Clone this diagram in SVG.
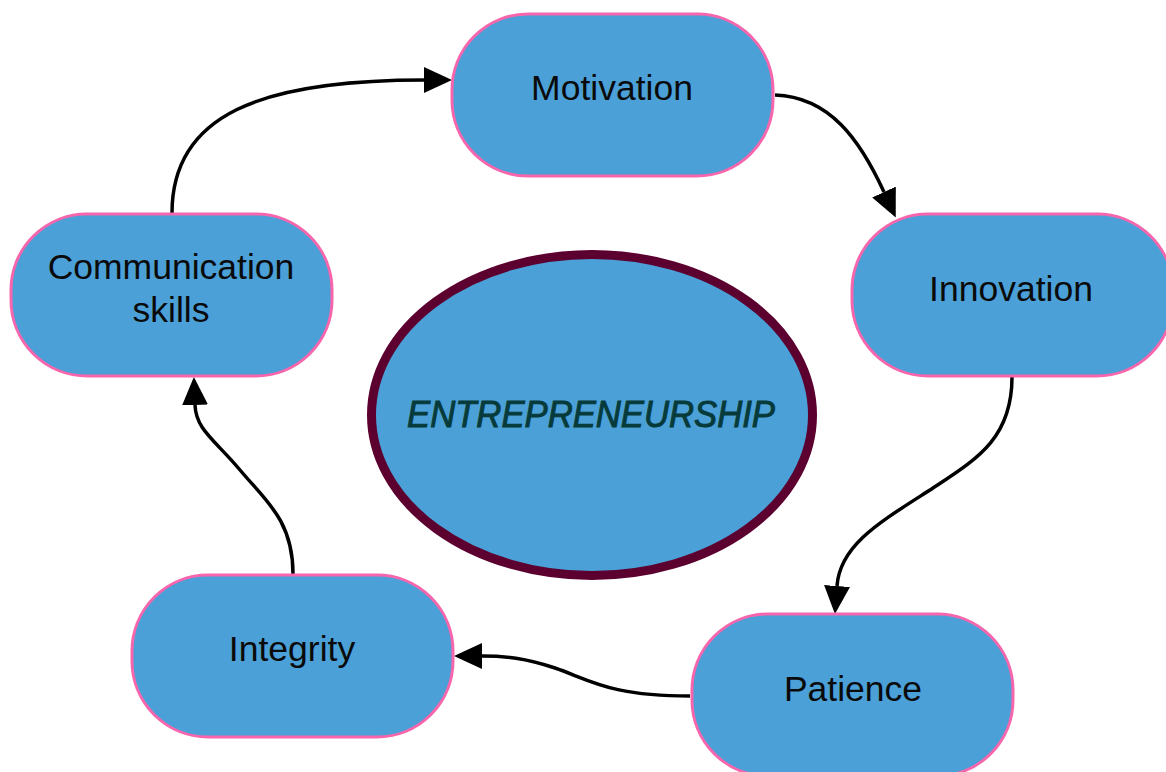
<svg xmlns="http://www.w3.org/2000/svg" width="1166" height="772" viewBox="0 0 1166 772">
<style>
.node rect{fill:#4aa0d7;stroke:#f766ad;stroke-width:3}
.lbl{font-family:"Liberation Sans",Arial,sans-serif;font-size:35.5px;fill:#0a0a0a;text-anchor:middle}
.conn path{fill:none;stroke:#000;stroke-width:3.5}
</style>
<defs>
<marker id="ah" markerUnits="userSpaceOnUse" markerWidth="32" markerHeight="28" refX="0" refY="13" orient="auto">
<path d="M0,0 L28,13 L0,26 Z" fill="#000"/>
</marker>
</defs>
<rect width="1166" height="772" fill="#fff"/>
<g id="connectors" class="conn">
<path d="M172,213 C172,115 260,80 424,80" marker-end="url(#ah)"/>
<path d="M775,95 C830,97 860,140 884,192" marker-end="url(#ah)"/>
<path d="M1012,377 C1012,440 975,460 930,490 C880,522 840,545 837,586" marker-end="url(#ah)"/>
<path d="M690,696 C610,696 590,680 555,668 C525,658 505,656 482,656" marker-end="url(#ah)"/>
<path d="M293,574 C293,520 265,500 240,470 C215,440 196,430 195,405" marker-end="url(#ah)"/>
</g>
<g id="center">
<ellipse cx="592" cy="415" rx="220.5" ry="160.5" fill="#4aa0d7" stroke="#5c0030" stroke-width="9"/>
<text x="591" y="427" font-family="Liberation Sans,Arial,sans-serif" font-style="italic" font-size="37" fill="#073a3a" stroke="#073a3a" stroke-width="1" text-anchor="middle" textLength="368" lengthAdjust="spacingAndGlyphs">ENTREPRENEURSHIP</text>
</g>
<g id="motivation" class="node">
<rect x="452" y="14" width="321" height="162" rx="76" ry="76"/>
<text class="lbl" x="612" y="100">Motivation</text>
</g>
<g id="innovation" class="node">
<rect x="852" y="214" width="321" height="162" rx="76" ry="76"/>
<text class="lbl" x="1011" y="301">Innovation</text>
</g>
<g id="patience" class="node">
<rect x="692" y="614" width="321" height="162" rx="76" ry="76"/>
<text class="lbl" x="853" y="701">Patience</text>
</g>
<g id="integrity" class="node">
<rect x="132" y="575" width="321" height="162" rx="76" ry="76"/>
<text class="lbl" x="292" y="661">Integrity</text>
</g>
<g id="communication" class="node">
<rect x="11" y="214" width="321" height="162" rx="76" ry="76"/>
<text class="lbl" x="171" y="279">Communication</text>
<text class="lbl" x="171" y="322">skills</text>
</g>
</svg>
